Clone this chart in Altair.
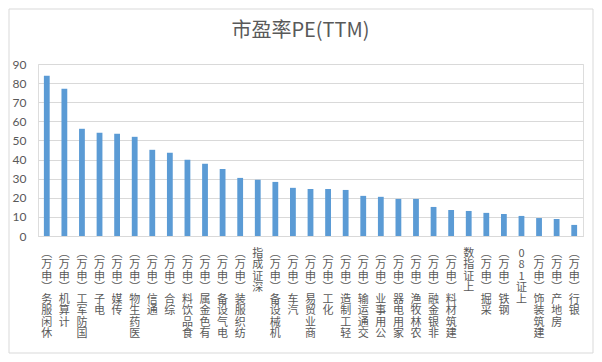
import altair as alt
import pandas as pd

categories = [
    "休闲服务(申万)", "计算机(申万)", "国防军工(申万)", "电子(申万)", "传媒(申万)",
    "医药生物(申万)", "通信(申万)", "综合(申万)", "食品饮料(申万)", "有色金属(申万)",
    "电气设备(申万)", "纺织服装(申万)", "深证成指", "机械设备(申万)", "汽车(申万)",
    "商业贸易(申万)", "化工(申万)", "轻工制造(申万)", "交通运输(申万)", "公用事业(申万)",
    "家用电器(申万)", "农林牧渔(申万)", "非银金融(申万)", "建筑材料(申万)", "上证指数",
    "采掘(申万)", "钢铁(申万)", "上证180", "建筑装饰(申万)", "房地产(申万)", "银行(申万)",
]
pe_values = [
    83.9, 77.1, 56.1, 54.0, 53.5,
    51.9, 45.1, 43.5, 39.9, 37.8,
    35.1, 30.4, 29.4, 28.3, 25.2,
    24.6, 24.6, 24.1, 21.0, 20.5,
    19.4, 19.4, 15.2, 13.6, 13.1,
    12.1, 11.5, 10.5, 9.4, 8.9, 5.8,
]
title_text = "市盈率PE(TTM)"
y_ticks = [0, 10, 20, 30, 40, 50, 60, 70, 80, 90]

df = pd.DataFrame({"category": categories, "pe": pe_values})

label_expr = (
    "reverse(split(replace(replace(datum.label, '(', '︶'), ')', '︵'), ''))"
)

bars = alt.Chart(df).mark_bar(color="#5B9BD5").encode(
    x=alt.X(
        "category:N",
        sort=None,
        title=None,
        scale=alt.Scale(paddingInner=0.67, paddingOuter=0.335),
        axis=alt.Axis(
            labelAngle=0,
            labelAlign="center",
            labelBaseline="top",
            labelExpr=label_expr,
            labelLineHeight=11.5,
            labelFont="Noto Sans CJK SC",
            labelFontSize=11,
            labelColor="#595959",
            labelPadding=11,
            ticks=False,
            domainColor="#D9D9D9",
            grid=False,
            labelLimit=0,
        ),
    ),
    y=alt.Y(
        "pe:Q",
        title=None,
        scale=alt.Scale(domain=[0, 90], nice=False),
        axis=alt.Axis(
            values=y_ticks,
            labelFont="Lato",
            labelFontSize=12,
            labelColor="#595959",
            labelPadding=12,
            ticks=False,
            domain=False,
            gridColor="#D9D9D9",
            gridWidth=1,
        ),
    ),
)

frame = alt.Chart(pd.DataFrame({"a": [0]})).mark_rect(
    fillOpacity=0, stroke="#D9D9D9", strokeWidth=1
).encode(
    x=alt.value(-29), x2=alt.value(555), y=alt.value(-55), y2=alt.value(289)
)

chart = alt.layer(frame, bars).properties(
    width=545,
    height=172,
    title=alt.TitleParams(
        text=title_text,
        font="Noto Sans CJK SC",
        fontSize=20,
        fontWeight="normal",
        color="#595959",
        anchor="middle",
        frame="group",
        dx=-10,
        offset=0,
        dy=32,
    ),
    autosize=alt.AutoSizeParams(type="none"),
    padding={"left": 30, "top": 56, "right": 11, "bottom": 118},
).configure_view(stroke=None).configure(background="white")

chart.save("out.html", embed_options={"renderer": "svg", "actions": False})
